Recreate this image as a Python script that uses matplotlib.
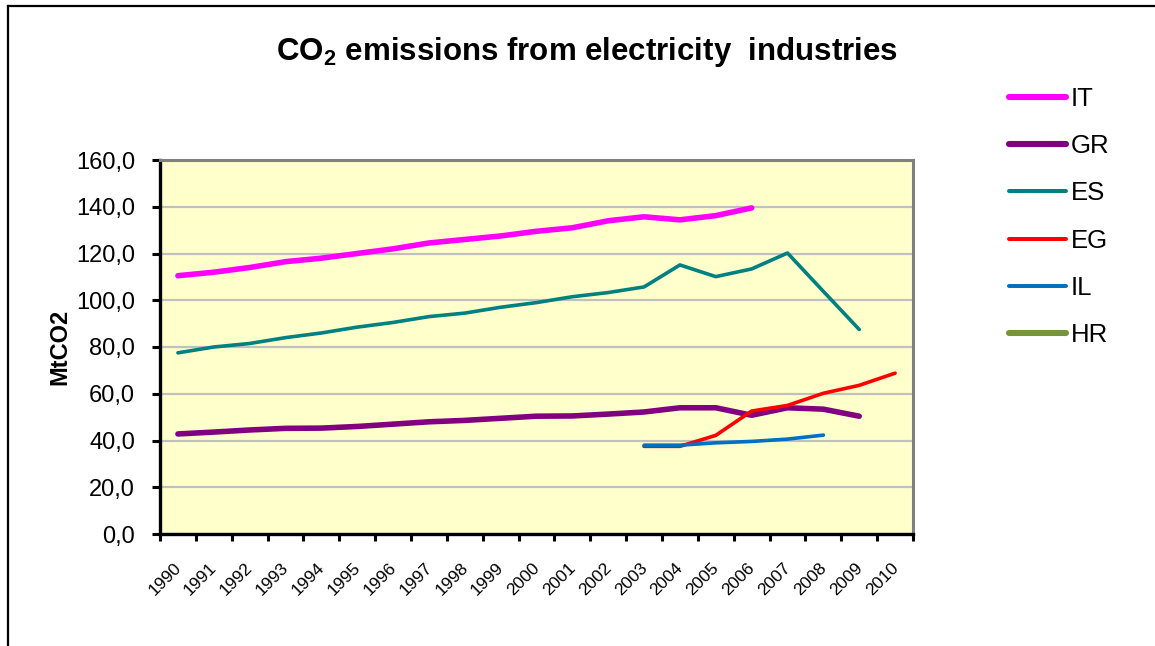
import matplotlib
matplotlib.use("Agg")
import matplotlib.pyplot as plt
import matplotlib.transforms as mtransforms
from matplotlib.lines import Line2D

plt.rcParams['font.family'] = ['Liberation Sans', 'DejaVu Sans']
plt.rcParams['mathtext.fontset'] = 'custom'
plt.rcParams['mathtext.rm'] = 'Liberation Sans'
plt.rcParams['mathtext.bf'] = 'Liberation Sans:bold'

years = [str(y) for y in range(1990, 2011)]

# MtCO2, None = no data
it = [110.5, 112.0, 114.0, 116.5, 118.0, 120.0, 122.0, 124.5, 126.0, 127.5,
      129.5, 131.0, 134.0, 135.7, 134.4, 136.2, 139.5, None, None, None, None]
gr = [42.8, 43.6, 44.5, 45.2, 45.3, 46.0, 47.0, 48.0, 48.6, 49.5,
      50.4, 50.5, 51.3, 52.2, 54.0, 54.0, 50.8, 54.0, 53.4, 50.4, None]
es = [77.5, 80.0, 81.5, 84.0, 86.0, 88.5, 90.5, 93.0, 94.5, 97.0,
      99.0, 101.5, 103.3, 105.7, 115.1, 110.1, 113.4, 120.2, 103.8, 87.5, None]
eg = [None] * 13 + [37.5, 37.5, 42.2, 52.6, 55.0, 60.2, 63.6, 68.8]
il = [None] * 13 + [38.0, 38.0, 39.0, 39.6, 40.6, 42.3, None, None]
hr = [None] * 21

series = [
    ("IT", it, "#FF00FF", 4.0),
    ("GR", gr, "#800080", 4.0),
    ("ES", es, "#008080", 2.6),
    ("EG", eg, "#FF0000", 2.6),
    ("IL", il, "#0070C0", 2.6),
    ("HR", hr, "#77933C", 4.0),
]

fig = plt.figure(figsize=(11.55, 6.46), dpi=100)
ax = fig.add_axes([160 / 1155, 1 - 534 / 646, 753 / 1155, 374 / 646])
ax.set_facecolor("#FFFFCC")

x = list(range(len(years)))
handles = []
for name, vals, col, lw in series:
    yv = [float('nan') if v is None else v for v in vals]
    ax.plot(x, yv, color=col, lw=lw, solid_capstyle='round', label=name)
    handles.append(Line2D([0], [0], color=col, lw=lw * 1.1, solid_capstyle='round'))

ax.set_xlim(-0.5, len(years) - 0.5)
ax.set_ylim(0, 160)
ax.set_yticks(range(0, 161, 20))
ax.set_yticklabels([f"{v},0" for v in range(0, 161, 20)])
ax.set_xticks(x)
ax.set_xticklabels(years, rotation=45, ha='right', va='top', fontsize=12.5)
ax.set_xticks([i - 0.5 for i in range(len(years) + 1)], minor=True)
ax.tick_params(axis='x', which='major', length=0, pad=19)
ax.tick_params(axis='x', which='minor', length=5, width=2.2, color='black')
ax.tick_params(axis='y', which='major', length=6, width=2.2, labelsize=17, pad=12)
shift = mtransforms.ScaledTranslation(6 / 100, 0, fig.dpi_scale_trans)
for lab in ax.get_xticklabels():
    lab.set_transform(lab.get_transform() + shift)

ax.yaxis.grid(True, color="#C0C0C0", lw=1.6)
ax.set_axisbelow(True)
for s in ['left', 'bottom']:
    ax.spines[s].set_color('black')
    ax.spines[s].set_linewidth(2.4)
for s in ['top', 'right']:
    ax.spines[s].set_color('#808080')
    ax.spines[s].set_linewidth(2.2)

ax.set_ylabel("MtCO2", fontsize=17, fontweight='bold')
ax.yaxis.set_label_coords(-0.118, 0.5)

fig.text(587 / 1155, 1 - 52 / 646, r"CO$_\mathbf{2}$ emissions from electricity  industries",
         ha='center', va='center', fontsize=22.5, fontweight='bold')

fig.legend(handles, [s[0] for s in series], loc='upper left',
           bbox_to_anchor=(986 / 1155, 1 - 64 / 646), frameon=False,
           fontsize=18.5, handlelength=2.2, handletextpad=0.2, labelspacing=0.9)

# outer chart frame
fig.add_artist(Line2D([8 / 1155, 8 / 1155], [0, 1 - 6 / 646], color='black', lw=1.6,
                      transform=fig.transFigure))
fig.add_artist(Line2D([8 / 1155, 1], [1 - 6 / 646, 1 - 6 / 646], color='black', lw=1.6,
                      transform=fig.transFigure))

fig.savefig("out.png", dpi=100)
